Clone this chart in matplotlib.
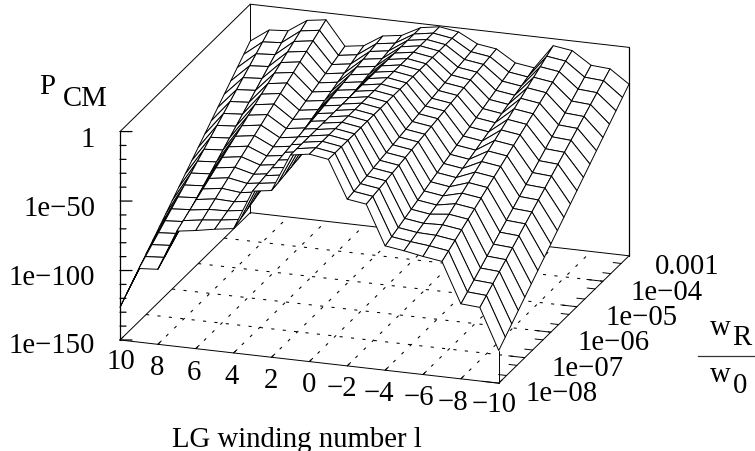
import numpy as np
import matplotlib
matplotlib.use("Agg")
import matplotlib.pyplot as plt
from matplotlib.lines import Line2D
from mpl_toolkits.mplot3d import proj3d

plt.rcParams['font.family'] = ['Liberation Serif', 'DejaVu Serif']

# axis values
winding = [10, 9, 8, 7, 6, 5, 4, 3, 2, 1, 0, -1, -2, -3, -4, -5, -6, -7, -8, -9, -10]
log_wr = [-8.0, -7.75, -7.5, -7.25, -7.0, -6.75, -6.5, -6.25, -6.0, -5.75, -5.5,
          -5.25, -5.0, -4.75, -4.5, -4.25, -4.0, -3.75, -3.5, -3.25, -3.0]

# log10(P_CM) read along w_R/w_0 for each |l| (the surface is mirror-symmetric in l)
p_l0 = [-0.7] * 21
p_l1 = [-2.9] * 21
p_l2 = [-30, -29, -28, -27, -26, -25, -24, -23, -22, -21, -20, -19, -18, -17, -16, -15, -14, -13, -12, -11, -10]
p_l3 = [-32, -31, -30, -29, -28, -27, -26, -25, -24, -23, -22, -21, -20, -19, -18, -17, -16, -15, -14, -13, -12]
p_l4 = [-60.5, -58.5, -56.5, -54.5, -52.5, -50.5, -48.5, -46.5, -44.5, -42.5, -40.5, -38.5, -36.5, -34.5, -32.5, -30.5, -28.5, -26.5, -24.5, -22.5, -20.5]
p_l5 = [-62.5, -60.5, -58.5, -56.5, -54.5, -52.5, -50.5, -48.5, -46.5, -44.5, -42.5, -40.5, -38.5, -36.5, -34.5, -32.5, -30.5, -28.5, -26.5, -24.5, -22.5]
p_l6 = [-65, -62, -59, -56, -53, -50, -47, -44, -41, -38, -35, -32, -29, -26, -23, -20, -17, -14, -11, -8, -5]
p_l7 = [-67, -64, -61, -58, -55, -52, -49, -46, -43, -40, -37, -34, -31, -28, -25, -22, -19, -16, -13, -10, -7]
p_l8 = [-96, -92, -88, -84, -80, -76, -72, -68, -64, -60, -56, -52, -48, -44, -40, -36, -32, -28, -24, -20, -16]
p_l9 = [-97, -93, -89, -85, -81, -77, -73, -69, -65, -61, -57, -53, -49, -45, -41, -37, -33, -29, -25, -21, -17]
p_l10 = [-126.5, -121.5, -116.5, -111.5, -106.5, -101.5, -96.5, -91.5, -86.5, -81.5, -76.5, -71.5, -66.5, -61.5, -56.5, -51.5, -46.5, -41.5, -36.5, -31.5, -26.5]
profiles = [p_l0, p_l1, p_l2, p_l3, p_l4, p_l5, p_l6, p_l7, p_l8, p_l9, p_l10]

# tick values and labels
x_ticks = [10, 8, 6, 4, 2, 0, -2, -4, -6, -8, -10]
x_labels = ['10', '8', '6', '4', '2', '0', '−2', '−4', '−6', '−8', '−10']
y_major = [-8, -7, -6, -5, -4, -3]
y_labels = ['1e−08', '1e−07', '1e−06', '1e−05', '1e−04', '0.001']
z_major = [0, -50, -100, -150]
z_labels = ['1', '1e−50', '1e−100', '1e−150']
z_minor = [-10, -20, -30, -40, -60, -70, -80, -90, -110, -120, -130, -140]

W, H = 755, 452
fig = plt.figure(figsize=(W / 100, H / 100), dpi=100)
ax = fig.add_axes([0, 0, 1, 1], projection='3d', proj_type='ortho', computed_zorder=False)
ax.view_init(elev=19.5, azim=-71.15)
ax.set_xlim(10, -10)
ax.set_ylim(-8, -3)
ax.set_zlim(-150, 0)
ax.set_box_aspect((400, 403, 221))
ax.set_axis_off()
ax.patch.set_visible(False)

LW = 0.7
def line(xs, ys, zs, z=1, lw=LW, **kw):
    ax.plot(xs, ys, zs, color='black', lw=lw, clip_on=False, zorder=z, solid_capstyle='round', **kw)

# back part of the box
line([10, -10], [-3, -3], [-150, -150])
line([10, 10], [-8, -3], [-150, -150])
line([10, 10], [-3, -3], [-150, 0])
line([-10, -10], [-3, -3], [-150, 0], lw=0.9)
line([10, -10], [-3, -3], [0, 0])
line([10, 10], [-8, -3], [0, 0])
line([10, 10], [-8, -8], [-150, 0], z=3, lw=0.9)

# dotted floor grid
dots = (0, (3, 8))
for v in x_ticks[1:-1]:
    line([v, v], [-8, -3], [-150, -150], ls=dots, lw=0.75)
for v in y_major[1:-1]:
    line([10, -10], [v, v], [-150, -150], ls=dots, lw=0.75)

# surface
Lg, Yg = np.meshgrid(winding, log_wr)
Zg = np.array([profiles[abs(l)] for l in winding]).T
surf = ax.plot_surface(Lg, Yg, Zg, rstride=1, cstride=1, color='white', edgecolor='black',
                       linewidth=LW, shade=False, antialiased=True, zorder=2)
surf.set_clip_on(False)

# front floor edges and the short corner post
line([10, -10], [-8, -8], [-150, -150], z=3)
line([-10, -10], [-8, -3], [-150, -150], z=3)
line([-10, -10], [-8, -8], [-150, p_l10[0]], z=3)

# ticks: x
for v in x_ticks:
    line([v, v], [-8, -7.87], [-150, -150], z=3)
# ticks: y (major, then 2 and 5 of each decade)
for v in y_major[:-1]:
    line([-10, -9.15], [v, v], [-150, -150], z=3)
    for m in (2, 5):
        u = v + np.log10(m)
        line([-10, -9.58], [u, u], [-150, -150], z=3)
# ticks: z, horizontal on the page
for v in z_major:
    line([10, 9.43], [-8, -7.952], [v, v], z=3, lw=0.9)
for v in z_minor:
    line([10, 9.715], [-8, -7.976], [v, v], z=3, lw=0.9)

# place the box on the page: two corners set the scale and the offset
def px(x, y, z):
    xs, ys, _ = proj3d.proj_transform(x, y, z, ax.get_proj())
    return ax.transData.transform((xs, ys))

fig.canvas.draw()
a, b = px(10, -8, -150), px(-10, -3, 0)
ratio = (629 - 120) / (b[0] - a[0])
ax.set_box_aspect((400, 403, 221), zoom=ratio)
fig.canvas.draw()
a = px(10, -8, -150)
ax.set_position([(120 - a[0]) / W, ((H - 341) - a[1]) / H, 1, 1])

# text
FS = 20.7
DY = 3
def label(x, y, s, **kw):
    fig.text(x / W, 1 - (y + DY) / H, s, fontsize=FS, ha='center', va='center', **kw)

for (x, y), s in zip([(121, 359), (157, 365), (194, 370), (232, 374), (271, 378), (309, 382),
                      (342, 386), (379, 391), (419, 395), (453, 400), (494, 402)], x_labels):
    label(x, y, s)
for (x, y), s in zip([(562, 391), (588, 366), (614, 340), (641, 315), (667, 290), (687, 264)], y_labels):
    label(x, y, s)
for y, s in zip([137, 206, 275, 343], z_labels):
    fig.text(95 / W, 1 - (y + DY) / H, s, fontsize=FS, ha='right', va='center')

label(297, 437, 'LG winding number l')
label(47, 84, 'P')
label(85, 96, 'CM')
label(720, 325, 'w')
label(742, 335, 'R')
label(720, 372, 'w')
label(740, 383, '0')
fig.add_artist(Line2D([698 / W, 755 / W], [1 - 357 / H, 1 - 357 / H], color='#333333', lw=0.9))

fig.savefig('out.png', dpi=100)
